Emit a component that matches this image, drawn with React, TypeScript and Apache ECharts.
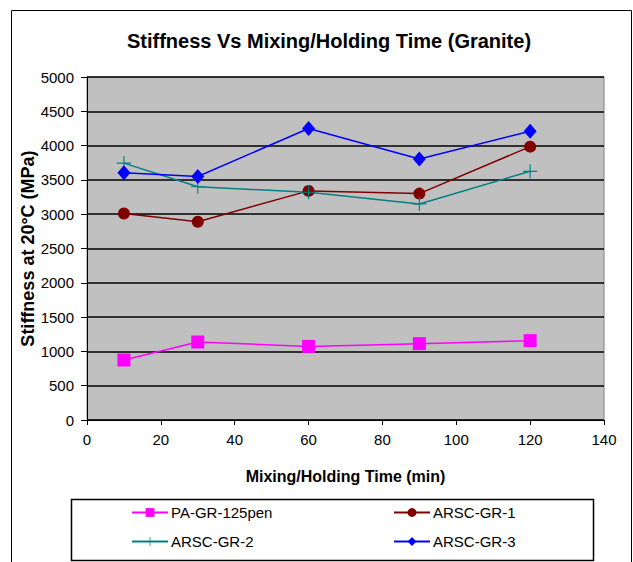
import React, { useEffect, useRef } from "react";
import * as echarts from "echarts";

const xValues = [10, 30, 60, 90, 120];
const paGr125 = [875, 1137, 1073, 1113, 1157];
const arscGr1 = [3010, 2890, 3340, 3300, 3985];
const arscGr2 = [3745, 3400, 3320, 3150, 3625];
const arscGr3 = [3605, 3550, 4250, 3805, 4210];
const seriesNames = ["PA-GR-125pen", "ARSC-GR-1", "ARSC-GR-2", "ARSC-GR-3"];

const FONT = "'Liberation Sans', Arial, sans-serif";
const PLUS = "path://M4.6,0H5.4V4.6H10V5.4H5.4V10H4.6V5.4H0V4.6H4.6Z";

const pairs = (ys: number[]) => xValues.map((x, i) => [x, ys[i]]);

const legendItem = (name: string, left: number, top: number) => ({
  data: [name],
  orient: "horizontal",
  left,
  top,
  padding: 0,
  itemWidth: 36,
  itemHeight: 11,
  textStyle: { fontFamily: FONT, fontSize: 15, color: "#000", padding: [0, 0, 0, -2] },
});

export default function App() {
  const ref = useRef<HTMLDivElement>(null);
  useEffect(() => {
    document.body.style.margin = "0";
    const chart = echarts.init(ref.current!, null, { renderer: "svg" });
    chart.setOption({
      animation: false,
      backgroundColor: "#ffffff",
      title: {
        text: "Stiffness Vs Mixing/Holding Time (Granite)",
        left: 329,
        textAlign: "center",
        top: 31,
        padding: 0,
        textStyle: { fontFamily: FONT, fontWeight: "bold", fontSize: 20, color: "#000" },
      },
      graphic: [
        {
          type: "rect",
          shape: { x: 11.5, y: 10.5, width: 620, height: 580 },
          style: { fill: "none", stroke: "#000", lineWidth: 1 },
          silent: true,
          z: -1,
        },
        {
          type: "rect",
          shape: { x: 71.5, y: 499.5, width: 522, height: 61 },
          style: { fill: "none", stroke: "#000", lineWidth: 1.5 },
          silent: true,
        },
      ],
      grid: {
        left: 87,
        right: 29,
        top: 77,
        bottom: 142,
        show: true,
        backgroundColor: "#C0C0C0",
        borderColor: "#808080",
        borderWidth: 1,
      },
      xAxis: {
        type: "value",
        min: 0,
        max: 140,
        interval: 20,
        name: "Mixing/Holding Time (min)",
        nameLocation: "middle",
        nameGap: 48,
        nameMoveOverlap: false,
        nameTextStyle: { fontFamily: FONT, fontWeight: "bold", fontSize: 16, color: "#000" },
        axisLine: { show: true, lineStyle: { color: "#000", width: 1 } },
        axisTick: { show: true, length: 5, lineStyle: { color: "#000" } },
        axisLabel: { fontFamily: FONT, fontSize: 15, color: "#000", margin: 12 },
        splitLine: { show: false },
      },
      yAxis: {
        type: "value",
        min: 0,
        max: 5000,
        interval: 500,
        name: "Stiffness at 20°C (MPa)",
        nameLocation: "middle",
        nameGap: 50,
        nameMoveOverlap: false,
        nameTextStyle: { fontFamily: FONT, fontWeight: "bold", fontSize: 18, color: "#000" },
        axisLine: { show: true, lineStyle: { color: "#000", width: 1 } },
        axisTick: { show: true, length: 6, lineStyle: { color: "#000" } },
        axisLabel: {
          fontFamily: FONT,
          fontSize: 15,
          color: "#000",
          margin: 13,
          formatter: (v: number) => String(v),
        },
        splitLine: { show: true, lineStyle: { color: "#000", width: 1.5 } },
      },
      legend: [
        legendItem(seriesNames[0], 131, 505),
        legendItem(seriesNames[2], 131, 534),
        legendItem(seriesNames[1], 393, 505),
        legendItem(seriesNames[3], 393, 534),
      ],
      series: [
        {
          name: seriesNames[0],
          type: "line",
          data: pairs(paGr125),
          symbol: "rect",
          symbolSize: 13,
          color: "#FF00FF",
          lineStyle: { width: 1.5, color: "#FF00FF" },
          itemStyle: { color: "#FF00FF" },
        },
        {
          name: seriesNames[1],
          type: "line",
          data: pairs(arscGr1),
          symbol: "circle",
          symbolSize: 12,
          color: "#800000",
          lineStyle: { width: 1.5, color: "#800000" },
          itemStyle: { color: "#800000" },
        },
        {
          name: seriesNames[2],
          type: "line",
          data: pairs(arscGr2),
          symbol: PLUS,
          symbolSize: 14,
          color: "#008080",
          lineStyle: { width: 1.5, color: "#008080" },
          itemStyle: { color: "#008080" },
        },
        {
          name: seriesNames[3],
          type: "line",
          data: pairs(arscGr3),
          symbol: "diamond",
          symbolSize: [13, 15],
          color: "#0000FF",
          lineStyle: { width: 1.5, color: "#0000FF" },
          itemStyle: { color: "#0000FF" },
        },
      ],
    });
    return () => chart.dispose();
  }, []);
  return <div ref={ref} style={{ width: 633, height: 562 }} />;
}
